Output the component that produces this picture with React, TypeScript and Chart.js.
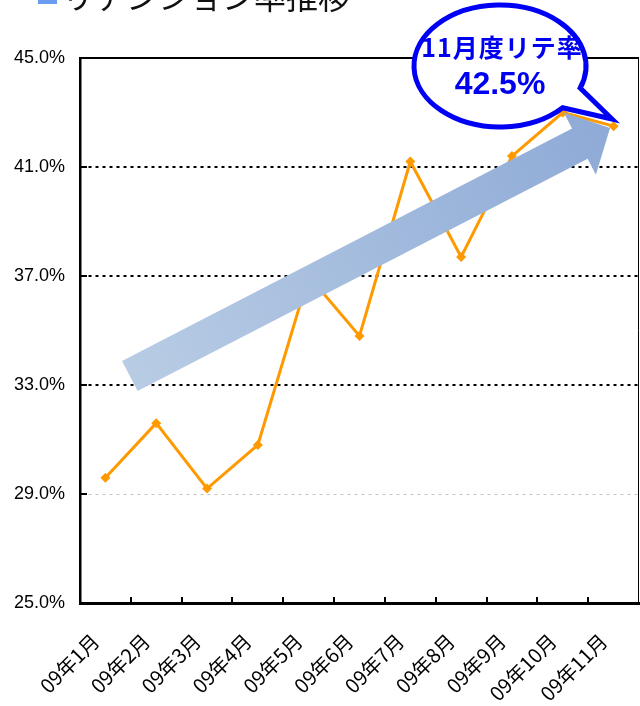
import { useEffect, useRef } from 'react';
import { Chart, registerables } from 'chart.js';

Chart.register(...registerables);

const categories = ['09年1月', '09年2月', '09年3月', '09年4月', '09年5月', '09年6月', '09年7月', '09年8月', '09年9月', '09年10月', '09年11月'];
const retentionRate = [29.6, 31.6, 29.2, 30.8, 37.0, 34.8, 41.2, 37.7, 41.4, 43.0, 42.5];
const yMin = 25;
const yMax = 45;
const yStep = 4;
const legendLabel = 'リテンション率推移';
const calloutTitle = '11月度リテ率';
const calloutValue = '42.5%';
// trend arrow in data space: [category index, value]
const arrowTail = [0.48, 33.33];
const arrowTip = [9.93, 42.43];

const W = 640;
const H = 706;

const framePlugin = {
  id: 'frame',
  beforeDatasetsDraw(chart: any) {
    const { ctx, chartArea: a, scales } = chart;
    const xs = scales.x;
    const ys = scales.y;
    ctx.save();
    ctx.strokeStyle = '#000';
    ctx.lineWidth = 1;
    ctx.beginPath();
    ctx.moveTo(a.right - 0.5, a.top);
    ctx.lineTo(a.right - 0.5, a.bottom);
    ctx.stroke();
    ctx.lineWidth = 2;
    for (let i = 1; i < categories.length; i++) {
      const px = (xs.getPixelForValue(i - 1) + xs.getPixelForValue(i)) / 2;
      ctx.beginPath();
      ctx.moveTo(Math.round(px), a.bottom);
      ctx.lineTo(Math.round(px), a.bottom - 6);
      ctx.stroke();
    }
    for (let v = yMin; v <= yMax; v += yStep) {
      const py = ys.getPixelForValue(v);
      ctx.beginPath();
      ctx.moveTo(a.left, py);
      ctx.lineTo(a.left + 7, py);
      ctx.stroke();
    }
    ctx.restore();
  },
};

const arrowPlugin = {
  id: 'trendArrow',
  afterDatasetsDraw(chart: any) {
    const { ctx, scales } = chart;
    const xs = scales.x;
    const ys = scales.y;
    const t0x = xs.getPixelForValue(arrowTail[0]);
    const t0y = ys.getPixelForValue(arrowTail[1]);
    const t1x = xs.getPixelForValue(arrowTip[0]);
    const t1y = ys.getPixelForValue(arrowTip[1]);
    const dx = t1x - t0x;
    const dy = t1y - t0y;
    const len = Math.hypot(dx, dy);
    const ux = dx / len;
    const uy = dy / len;
    const nx = -uy;
    const ny = ux;
    const shaftHalf = 17;
    const headHalf = 35;
    const headLen = 34;
    const bx = t1x - ux * headLen;
    const by = t1y - uy * headLen;
    const pts = [
      [t0x + nx * shaftHalf, t0y + ny * shaftHalf],
      [bx + nx * shaftHalf, by + ny * shaftHalf],
      [bx + nx * headHalf, by + ny * headHalf],
      [t1x, t1y],
      [bx - nx * headHalf, by - ny * headHalf],
      [bx - nx * shaftHalf, by - ny * shaftHalf],
      [t0x - nx * shaftHalf, t0y - ny * shaftHalf],
    ];
    ctx.save();
    const g = ctx.createLinearGradient(t0x, t0y, t1x, t1y);
    g.addColorStop(0, '#b8cce4');
    g.addColorStop(1, '#8eaad6');
    ctx.fillStyle = g;
    ctx.beginPath();
    pts.forEach((p, i) => (i ? ctx.lineTo(p[0], p[1]) : ctx.moveTo(p[0], p[1])));
    ctx.closePath();
    ctx.fill();
    ctx.restore();
  },
};

const overlayPlugin = {
  id: 'overlay',
  afterDraw(chart: any) {
    const { ctx } = chart;
    ctx.save();
    ctx.fillStyle = '#6a9cf0';
    ctx.fillRect(38, -10, 19, 14);
    ctx.fillStyle = '#111';
    ctx.font = '32px "Noto Sans CJK JP"';
    ctx.textAlign = 'left';
    ctx.textBaseline = 'middle';
    ctx.fillText(legendLabel, 62, -3);

    const cx = 500;
    const cy = 66;
    const rx = 86;
    const ry = 61;
    const tip = [612, 119];
    const a1 = Math.atan2((88 - cy) / ry, (580 - cx) / rx);
    const a2 = Math.atan2((108 - cy) / ry, (563 - cx) / rx);
    ctx.beginPath();
    ctx.ellipse(cx, cy, rx, ry, 0, a2, a1 + Math.PI * 2, false);
    ctx.lineTo(tip[0], tip[1]);
    ctx.closePath();
    ctx.fillStyle = '#fff';
    ctx.fill();
    ctx.lineWidth = 5;
    ctx.lineJoin = 'miter';
    ctx.strokeStyle = '#0000f5';
    ctx.stroke();

    ctx.fillStyle = '#0000f0';
    ctx.textAlign = 'center';
    ctx.textBaseline = 'middle';
    ctx.font = 'bold 25px "Noto Sans CJK JP"';
    try { (ctx as any).letterSpacing = '1px'; } catch (e) {}
    ctx.fillText(calloutTitle, 502, 47);
    try { (ctx as any).letterSpacing = '0px'; } catch (e) {}
    ctx.font = 'bold 32px "Liberation Sans"';
    ctx.fillText(calloutValue, 500, 85);
    ctx.restore();
  },
};

export default function App() {
  const ref = useRef<HTMLCanvasElement | null>(null);

  useEffect(() => {
    if (!ref.current) return;
    const chart = new Chart(ref.current, {
      type: 'line',
      data: {
        labels: categories,
        datasets: [
          {
            label: legendLabel,
            data: retentionRate,
            borderColor: '#ff9900',
            backgroundColor: '#ff9900',
            borderWidth: 3,
            pointStyle: 'rectRot',
            pointRadius: 5,
            pointBorderWidth: 0,
            pointBackgroundColor: '#ff9900',
            tension: 0,
          },
        ],
      },
      options: {
        responsive: false,
        animation: false,
        layout: { autoPadding: false, padding: { top: 58, right: 1, left: 0, bottom: 0 } },
        plugins: {
          legend: { display: false },
          tooltip: { enabled: false },
          title: { display: false },
        },
        scales: {
          x: {
            type: 'category',
            offset: true,
            grid: { display: false, drawTicks: false },
            border: { display: true, color: '#000', width: 3 },
            ticks: {
              autoSkip: false,
              minRotation: 45,
              maxRotation: 45,
              padding: 26,
              labelOffset: -10,
              color: '#000',
              font: { family: '"Noto Sans CJK JP"', size: 20 },
            },
            afterFit(s: any) {
              s.height = H - 603;
              s.paddingLeft = 0;
              s.paddingRight = 0;
            },
          },
          y: {
            min: yMin,
            max: yMax,
            ticks: {
              stepSize: yStep,
              padding: 15,
              color: '#000',
              font: { family: '"Liberation Sans"', size: 18 },
              callback: (v: any) => Number(v).toFixed(1) + '%',
            },
            grid: {
              drawTicks: false,
              color: (c: any) => (c.tick && c.tick.value === 29 ? '#c4c4c4' : '#000'),
              lineWidth: (c: any) => (c.tick && c.tick.value === 29 ? 1 : 2),
            },
            border: {
              display: true,
              color: '#000',
              width: 2.5,
              dash: (c: any) => (c.tick && c.tick.value === yMax ? [] : [3, 4]),
            },
            afterFit(s: any) {
              s.width = 80;
              s.paddingTop = 0;
              s.paddingBottom = 0;
            },
          },
        },
      },
      plugins: [framePlugin, arrowPlugin, overlayPlugin],
    } as any);
    return () => chart.destroy();
  }, []);

  return (
    <div style={{ position: 'absolute', left: 0, top: 0, width: W, height: H, background: '#fff' }}>
      <canvas ref={ref} width={W} height={H} style={{ width: W, height: H, display: 'block' }} />
    </div>
  );
}
